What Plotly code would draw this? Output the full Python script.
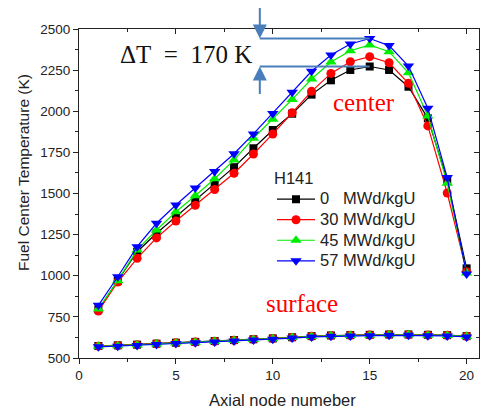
import plotly.graph_objects as go

# Axial node index
nodes = list(range(1, 21))

# Fuel centre temperature (K) for each burnup step
center_0 = [795, 968, 1146, 1258, 1359, 1461, 1562, 1660, 1775, 1886, 1985, 2101, 2188, 2251, 2272, 2251, 2149, 1957, 1582, 1045]
center_30 = [785, 962, 1106, 1230, 1333, 1428, 1524, 1623, 1740, 1862, 1991, 2121, 2230, 2301, 2332, 2295, 2170, 1911, 1503, 1025]
center_45 = [798, 970, 1157, 1278, 1389, 1486, 1590, 1704, 1836, 1951, 2072, 2196, 2299, 2368, 2403, 2362, 2234, 1971, 1562, 1017]
center_57 = [820, 994, 1177, 1319, 1430, 1533, 1633, 1742, 1862, 1987, 2115, 2243, 2342, 2409, 2442, 2399, 2275, 2018, 1597, 1011]

# Fuel surface temperature (K) for each burnup step
surface_0 = [573, 577, 581, 587, 593, 598, 603, 609, 614, 619, 626, 633, 637, 639, 641, 643, 643, 641, 639, 633]
surface_30 = [572, 576, 580, 586, 592, 597, 602, 608, 613, 618, 625, 632, 636, 638, 640, 642, 642, 640, 638, 632]
surface_45 = [571, 575, 579, 585, 591, 596, 601, 607, 612, 617, 624, 631, 635, 637, 639, 641, 641, 639, 637, 631]
surface_57 = [568, 572, 576, 582, 588, 593, 598, 604, 609, 614, 621, 628, 632, 634, 636, 638, 638, 636, 634, 628]

burnup_labels = ["0\u2007 MWd/kgU", "30 MWd/kgU", "45 MWd/kgU", "57 MWd/kgU"]
colors = ["#000000", "#ff0000", "#00ee00", "#0000ff"]
symbols = ["square", "circle", "triangle-up", "triangle-down"]
sizes = [8, 9, 10, 10]

centers = [center_0, center_30, center_45, center_57]
surfaces = [surface_0, surface_30, surface_45, surface_57]

SANS = "Liberation Sans, Arial, sans-serif"
SERIF = "Liberation Serif, Times New Roman, serif"
ARROW = "#4a7ebb"
LEGEND_TEXT = "<span style='font-size:16.5px'>{}</span>"

fig = go.Figure()

for lab, col, sym, sz, c_vals, s_vals in zip(burnup_labels, colors, symbols, sizes, centers, surfaces):
    fig.add_trace(go.Scatter(
        x=nodes, y=c_vals, name=LEGEND_TEXT.format(lab), legendgroup=lab,
        mode="lines+markers",
        line=dict(color=col, width=1.2),
        marker=dict(symbol=sym, size=sz, color=col),
    ))
    fig.add_trace(go.Scatter(
        x=nodes, y=s_vals, name=lab, legendgroup=lab, showlegend=False,
        mode="lines+markers",
        line=dict(color=col, width=1.2),
        marker=dict(symbol=sym, size=sz, color=col),
    ))

# invisible trace so the mirrored (top/right) axes get drawn
fig.add_trace(go.Scatter(x=[None], y=[None], xaxis="x2", yaxis="y2",
                         showlegend=False, hoverinfo="skip"))

X_RANGE = [0, 20.64]
Y_RANGE = [500, 2500]

axis_common = dict(showline=True, linecolor="#222222", linewidth=1,
                   showgrid=False, zeroline=False, ticklen=5, tickwidth=1,
                   tickcolor="#222222")

fig.update_layout(
    width=484, height=410,
    margin=dict(l=79, r=5, t=29, b=52),
    paper_bgcolor="white", plot_bgcolor="white",
    font=dict(family=SANS, color="#222222", size=13.5),
    xaxis=dict(range=X_RANGE, tick0=0, dtick=5, ticks="outside",
               minor=dict(dtick=2.5, ticks="outside", ticklen=3, tickcolor="#222222"),
               tickfont=dict(size=13.5), **axis_common),
    yaxis=dict(range=Y_RANGE, tick0=500, dtick=250, ticks="outside",
               minor=dict(dtick=125, ticks="outside", ticklen=3, tickcolor="#222222"),
               tickfont=dict(size=13.5), **axis_common),
    xaxis2=dict(range=X_RANGE, overlaying="x", side="top", anchor="y2",
                tick0=0, dtick=5, ticks="inside", showticklabels=False,
                minor=dict(dtick=2.5, ticks="inside", ticklen=3, tickcolor="#222222"),
                **axis_common),
    yaxis2=dict(range=Y_RANGE, overlaying="y", side="right", anchor="x2",
                tick0=500, dtick=250, ticks="inside", showticklabels=False,
                minor=dict(dtick=125, ticks="inside", ticklen=3, tickcolor="#222222"),
                **axis_common),
    legend=dict(
        title=dict(text="H141", font=dict(size=16.5, family=SANS)),
        font=dict(size=13.5, family=SANS, color="#222222"),
        x=0.4825, y=0.5944, xanchor="left", yanchor="top",
        bgcolor="rgba(0,0,0,0)", borderwidth=0,
        tracegroupgap=0, itemwidth=38,
    ),
    showlegend=True,
)

# Peak difference between highest and lowest burnup at the hottest node
peak_idx = center_57.index(max(center_57))
peak_x = nodes[peak_idx]
t_hi = center_57[peak_idx]
t_lo = center_0[peak_idx]
x_left = 9.33

for yv in (t_hi, t_lo):
    fig.add_shape(type="line", xref="x", yref="y", x0=x_left, x1=peak_x,
                  y0=yv, y1=yv, line=dict(color=ARROW, width=2))

fig.add_annotation(x=x_left, y=t_hi, xref="x", yref="y", ax=0, ay=-32,
                   showarrow=True, arrowhead=2, arrowsize=1.4, arrowwidth=2,
                   arrowcolor=ARROW, text="", standoff=0)
fig.add_annotation(x=x_left, y=t_lo, xref="x", yref="y", ax=0, ay=29,
                   showarrow=True, arrowhead=2, arrowsize=1.4, arrowwidth=2,
                   arrowcolor=ARROW, text="", standoff=0)

fig.add_annotation(x=0.2675, y=(358 - 55) / 329, xref="paper", yref="paper",
                   text=f"\u0394T\u2002=\u2002{t_hi - t_lo} K", showarrow=False,
                   font=dict(family=SERIF, size=25, color="#111111"),
                   xanchor="center", yanchor="middle")
fig.add_annotation(x=0.7137, y=(358 - 103) / 329, xref="paper", yref="paper",
                   text="center", showarrow=False,
                   font=dict(family=SERIF, size=25, color="#ff0000"),
                   xanchor="center", yanchor="middle")
fig.add_annotation(x=0.5575, y=(358 - 303) / 329, xref="paper", yref="paper",
                   text="surface", showarrow=False,
                   font=dict(family=SERIF, size=25, color="#ff0000"),
                   xanchor="center", yanchor="middle")

# Axis titles
fig.add_annotation(x=(282.5 - 79) / 400, y=(358 - 400) / 329, xref="paper", yref="paper",
                   text="Axial node numeber", showarrow=False,
                   font=dict(family=SANS, size=16.5, color="#222222"),
                   xanchor="center", yanchor="middle")
fig.add_annotation(x=(24 - 79) / 400, y=(358 - 173) / 329, xref="paper", yref="paper",
                   text="Fuel Center Temperature (K)", showarrow=False, textangle=-90,
                   font=dict(family=SANS, size=15.5, color="#222222"),
                   xanchor="center", yanchor="middle")

fig.write_html("out.html")
